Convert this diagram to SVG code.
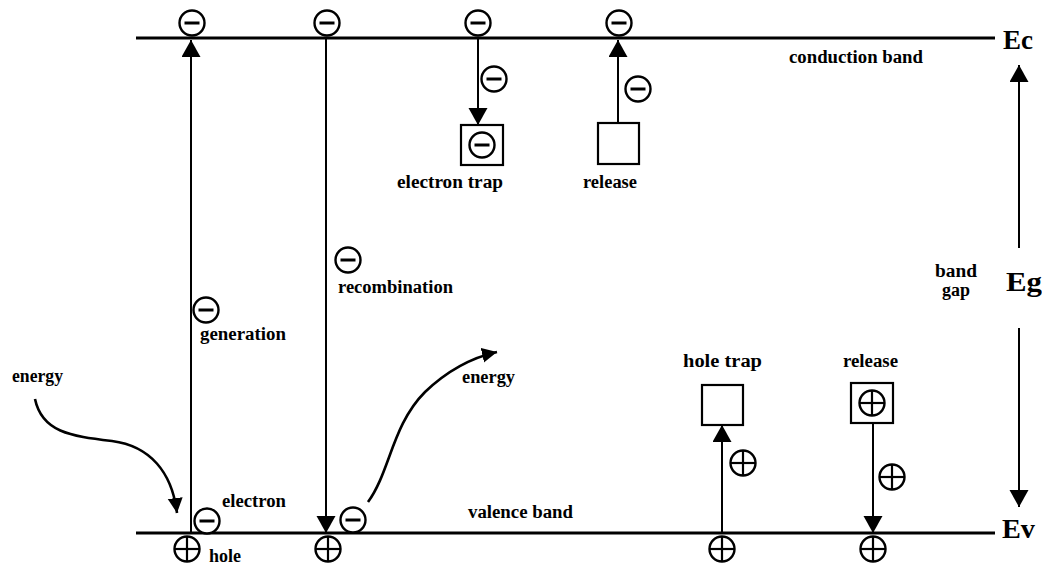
<svg xmlns="http://www.w3.org/2000/svg" xmlns:xlink="http://www.w3.org/1999/xlink" width="1042" height="564" viewBox="0 0 1042 564">
<style>
.band{stroke:#000;stroke-width:3;fill:none}
.ln{stroke:#000;stroke-width:2;fill:none}
.cv{stroke:#000;stroke-width:2.6;fill:none}
.box{fill:#fff;stroke:#000;stroke-width:2.2}
.lbl{font-family:"Liberation Serif","Times New Roman",serif;font-weight:bold;font-size:18px;fill:#000}
.big{font-family:"Liberation Serif","Times New Roman",serif;font-weight:bold;font-size:28px;fill:#000}
.circ{fill:#fff;stroke:#000;stroke-width:2.4}
.bar{stroke:#000;stroke-width:3}
.cross{stroke:#000;stroke-width:2.2}
</style>
<defs>
<marker id="ah" markerUnits="userSpaceOnUse" markerWidth="20" markerHeight="20" refX="17" refY="9.5" orient="auto">
<path d="M0,0 L17,9.5 L0,19 z" fill="#000"/>
</marker>
<marker id="ahs" markerUnits="userSpaceOnUse" markerWidth="18" markerHeight="16" refX="15" refY="7.5" orient="auto">
<path d="M0,0 L15,7.5 L0,15 z" fill="#000"/>
</marker>
<g id="minus"><circle class="circ" cx="0" cy="0" r="12.5"/><line class="bar" x1="-7.5" y1="0" x2="7.5" y2="0"/></g>
<g id="plus"><circle class="circ" cx="0" cy="0" r="12.5"/><line class="cross" x1="-12.5" y1="0" x2="12.5" y2="0"/><line class="cross" x1="0" y1="-12.5" x2="0" y2="12.5"/></g>
</defs>

<g id="connectors">
<line class="band" x1="136" y1="38" x2="995" y2="38"/>
<line class="band" x1="136" y1="533" x2="995" y2="533"/>
<line class="ln" x1="191" y1="533" x2="191" y2="40" marker-end="url(#ah)"/>
<line class="ln" x1="326" y1="38" x2="326" y2="533" marker-end="url(#ah)"/>
<line class="ln" x1="478" y1="38" x2="478" y2="125" marker-end="url(#ah)"/>
<line class="ln" x1="618" y1="123" x2="618" y2="40" marker-end="url(#ah)"/>
<line class="ln" x1="722" y1="533" x2="722" y2="425" marker-end="url(#ah)"/>
<line class="ln" x1="873" y1="423" x2="873" y2="533" marker-end="url(#ah)"/>
<line class="ln" x1="1019" y1="248" x2="1019" y2="65" marker-end="url(#ah)"/>
<line class="ln" x1="1019" y1="328" x2="1019" y2="507" marker-end="url(#ah)"/>
<path class="cv" d="M35,399 C42,432 70,436 112,441 C150,446 172,472 177,513" marker-end="url(#ahs)"/>
<path class="cv" d="M368,502 C390,472 392,425 425,392 C448,370 470,358 497,352" marker-end="url(#ahs)"/>
</g>

<g id="electron-trap"><rect class="box" x="461" y="125" width="42" height="40"/><use href="#minus" x="482" y="145"/></g>
<g id="electron-release-trap"><rect class="box" x="598" y="123" width="41" height="41"/></g>
<g id="hole-trap"><rect class="box" x="702" y="385" width="41" height="40"/></g>
<g id="hole-release-trap"><rect class="box" x="851" y="383" width="42" height="40"/><use href="#plus" x="872" y="403"/></g>

<g id="charges">
<use href="#minus" x="192" y="23"/>
<use href="#minus" x="327" y="23"/>
<use href="#minus" x="478" y="23"/>
<use href="#minus" x="619" y="23"/>
<use href="#minus" x="494" y="79"/>
<use href="#minus" x="638" y="89"/>
<use href="#minus" x="206" y="310"/>
<use href="#minus" x="348" y="260"/>
<use href="#minus" x="207" y="521"/>
<use href="#minus" x="353" y="520"/>
<use href="#plus" x="187" y="549"/>
<use href="#plus" x="328" y="549"/>
<use href="#plus" x="722" y="549"/>
<use href="#plus" x="873" y="549"/>
<use href="#plus" x="743" y="463"/>
<use href="#plus" x="892" y="477"/>
</g>

<g id="labels">
<text class="lbl" x="789" y="63" textLength="134" lengthAdjust="spacingAndGlyphs">conduction band</text>
<text class="lbl" x="397" y="188" textLength="106" lengthAdjust="spacingAndGlyphs">electron trap</text>
<text class="lbl" x="583" y="188" textLength="54" lengthAdjust="spacingAndGlyphs">release</text>
<text class="lbl" x="338" y="293" textLength="115" lengthAdjust="spacingAndGlyphs">recombination</text>
<text class="lbl" x="200" y="340" textLength="86" lengthAdjust="spacingAndGlyphs">generation</text>
<text class="lbl" x="935" y="277" textLength="42" lengthAdjust="spacingAndGlyphs">band</text>
<text class="lbl" x="942" y="296" textLength="28" lengthAdjust="spacingAndGlyphs">gap</text>
<text class="lbl" x="12" y="382" textLength="51" lengthAdjust="spacingAndGlyphs">energy</text>
<text class="lbl" x="462" y="383" textLength="53" lengthAdjust="spacingAndGlyphs">energy</text>
<text class="lbl" x="222" y="507" textLength="64" lengthAdjust="spacingAndGlyphs">electron</text>
<text class="lbl" x="209" y="562" textLength="32" lengthAdjust="spacingAndGlyphs">hole</text>
<text class="lbl" x="468" y="518" textLength="105" lengthAdjust="spacingAndGlyphs">valence band</text>
<text class="lbl" x="683" y="367" textLength="79" lengthAdjust="spacingAndGlyphs">hole trap</text>
<text class="lbl" x="843" y="367" textLength="55" lengthAdjust="spacingAndGlyphs">release</text>
<text class="big" x="1003" y="49" textLength="30" lengthAdjust="spacingAndGlyphs">Ec</text>
<text class="big" x="1006" y="291" textLength="36" lengthAdjust="spacingAndGlyphs">Eg</text>
<text class="big" x="1002" y="538" textLength="33" lengthAdjust="spacingAndGlyphs">Ev</text>
</g>
</svg>
